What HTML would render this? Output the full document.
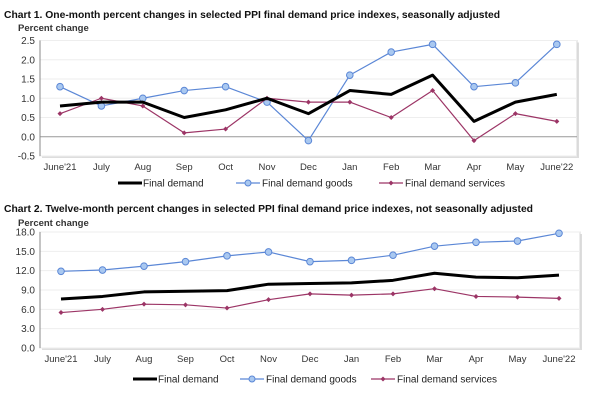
<!DOCTYPE html>
<html><head><meta charset="utf-8"><style>
body{margin:0;background:#fff;width:600px;height:402px;overflow:hidden;font-family:"Liberation Sans",Arial,sans-serif}
svg{display:block}
</style></head><body>
<svg id="c" width="600" height="402"></svg>
<script>
const categories=["June'21","July","Aug","Sep","Oct","Nov","Dec","Jan","Feb","Mar","Apr","May","June'22"];
const c1Final=[0.8,0.9,0.9,0.5,0.7,1.0,0.6,1.2,1.1,1.6,0.4,0.9,1.1];
const c1Goods=[1.3,0.8,1.0,1.2,1.3,0.9,-0.1,1.6,2.2,2.4,1.3,1.4,2.4];
const c1Services=[0.6,1.0,0.8,0.1,0.2,1.0,0.9,0.9,0.5,1.2,-0.1,0.6,0.4];
const c1Ticks=["-0.5","0.0","0.5","1.0","1.5","2.0","2.5"];
const c2Final=[7.6,8.0,8.7,8.8,8.9,9.9,10.0,10.1,10.5,11.6,11.0,10.9,11.3];
const c2Goods=[11.9,12.1,12.7,13.4,14.3,14.9,13.4,13.6,14.4,15.8,16.4,16.6,17.8];
const c2Services=[5.5,6.0,6.8,6.7,6.2,7.5,8.4,8.2,8.4,9.2,8.0,7.9,7.7];
const c2Ticks=["0.0","3.0","6.0","9.0","12.0","15.0","18.0"];
const NS="http://www.w3.org/2000/svg";
const svg=document.getElementById('c');
function mk(t,a,p){const e=document.createElementNS(NS,t);for(const k in a)e.setAttribute(k,a[k]);(p||svg).appendChild(e);return e;}
function txt(x,y,s,a,p){const e=mk('text',Object.assign({x:x,y:y,'font-size':10,fill:'#222'},a||{}),p);e.textContent=s;return e;}
function chart(o){
  const g=mk('g',{});
  
  
  const t=txt(4,o.titleY,o.title,{'font-size':10.5,'font-weight':'bold',fill:'#111',textLength:o.titleW,lengthAdjust:'spacingAndGlyphs'});
  
  const u=txt(18,o.unitY,'Percent change',{'font-size':9.5,'font-weight':'bold',fill:'#333'});
  
  const L=40,R=o.right,T=o.top,B=o.bottom;
  const vmin=o.min,vmax=o.max;
  const y=v=>B-(v-vmin)/(vmax-vmin)*(B-T);
  const x=i=>o.x0+i*o.dx;
  mk('rect',{x:L+2,y:T+2,width:R-L,height:B-T,fill:'#ddd'},g);
  mk('rect',{x:L,y:T,width:R-L,height:B-T,fill:'#fff',stroke:'#d8d8d8'},g);
  o.ticks.forEach(s=>{const v=parseFloat(s),yy=y(v);
    mk('line',{x1:L,x2:R,y1:yy,y2:yy,stroke:(v===0&&vmin<0)?'#999':'#eee','stroke-width':1},g);
    const tl=txt(L-5,yy+3.5,s,{'text-anchor':'end','font-size':10,fill:'#333'},g);
    });
  mk('line',{x1:L,x2:L,y1:T,y2:B,stroke:'#888'},g);
  categories.forEach((c,i)=>{const tl=txt(x(i),o.labY,c,{'text-anchor':'middle','font-size':9.5,fill:'#333'});
    });
  const series=[
    {d:o.goods,col:'#5b87d6',w:1.2,m:'circle',name:'final-demand-goods-line'},
    {d:o.services,col:'#9c3566',w:1.2,m:'diamond',name:'final-demand-services-line'},
    {d:o.final,col:'#000',w:3,m:null,name:'final-demand-line'}];
  series.forEach(s=>{
    const p=mk('polyline',{points:s.d.map((v,i)=>x(i)+','+y(v)).join(' '),fill:'none',stroke:s.col,'stroke-width':s.w,'stroke-linejoin':'round'},g);
    
    if(s.m==='circle')s.d.forEach((v,i)=>{const m=mk('circle',{cx:x(i),cy:y(v),r:3.3,fill:'#a9c8f0',stroke:'#5b87d6','stroke-width':1},g);
      });
    if(s.m==='diamond')s.d.forEach((v,i)=>{const xx=x(i),yy=y(v);const m=mk('polygon',{points:`${xx},${yy-2.5} ${xx+2.5},${yy} ${xx},${yy+2.5} ${xx-2.5},${yy}`,fill:'#9c3566'},g);
      });
  });
  const ly=o.legY, lg=o.leg;
  const e1=mk('g',{});
  mk('line',{x1:lg[0],x2:lg[0]+24,y1:ly,y2:ly,stroke:'#000','stroke-width':3},e1);
  txt(lg[0]+25,ly+3.5,'Final demand',{fill:'#222'},e1);
  const e2=mk('g',{});
  mk('line',{x1:lg[1],x2:lg[1]+24,y1:ly,y2:ly,stroke:'#5b87d6','stroke-width':1.2},e2);
  mk('circle',{cx:lg[1]+12,cy:ly,r:3,fill:'#a9c8f0',stroke:'#5b87d6'},e2);
  txt(lg[1]+26,ly+3.5,'Final demand goods',{fill:'#222'},e2);
  const e3=mk('g',{});
  mk('line',{x1:lg[2],x2:lg[2]+24,y1:ly,y2:ly,stroke:'#9c3566','stroke-width':1.2},e3);
  mk('polygon',{points:`${lg[2]+12},${ly-2.5} ${lg[2]+14.5},${ly} ${lg[2]+12},${ly+2.5} ${lg[2]+9.5},${ly}`,fill:'#9c3566'},e3);
  txt(lg[2]+26,ly+3.5,'Final demand services',{fill:'#222'},e3);
}
chart({name:'chart-1-one-month',title:'Chart 1. One-month percent changes in selected PPI final demand price indexes, seasonally adjusted',
  titleY:18,titleW:496,unitY:31,top:40.5,bottom:156,right:577,min:-0.5,max:2.5,ticks:c1Ticks,x0:60,dx:41.4,labY:170,legY:183,leg:[118,236,379],
  final:c1Final,goods:c1Goods,services:c1Services});
chart({name:'chart-2-twelve-month',title:'Chart 2. Twelve-month percent changes in selected PPI final demand price indexes, not seasonally adjusted',
  titleY:212,titleW:529,unitY:226,top:232,bottom:348,right:580,min:0,max:18,ticks:c2Ticks,x0:61,dx:41.5,labY:362,legY:379,leg:[133,240,371],
  final:c2Final,goods:c2Goods,services:c2Services});
</script>
</body></html>
